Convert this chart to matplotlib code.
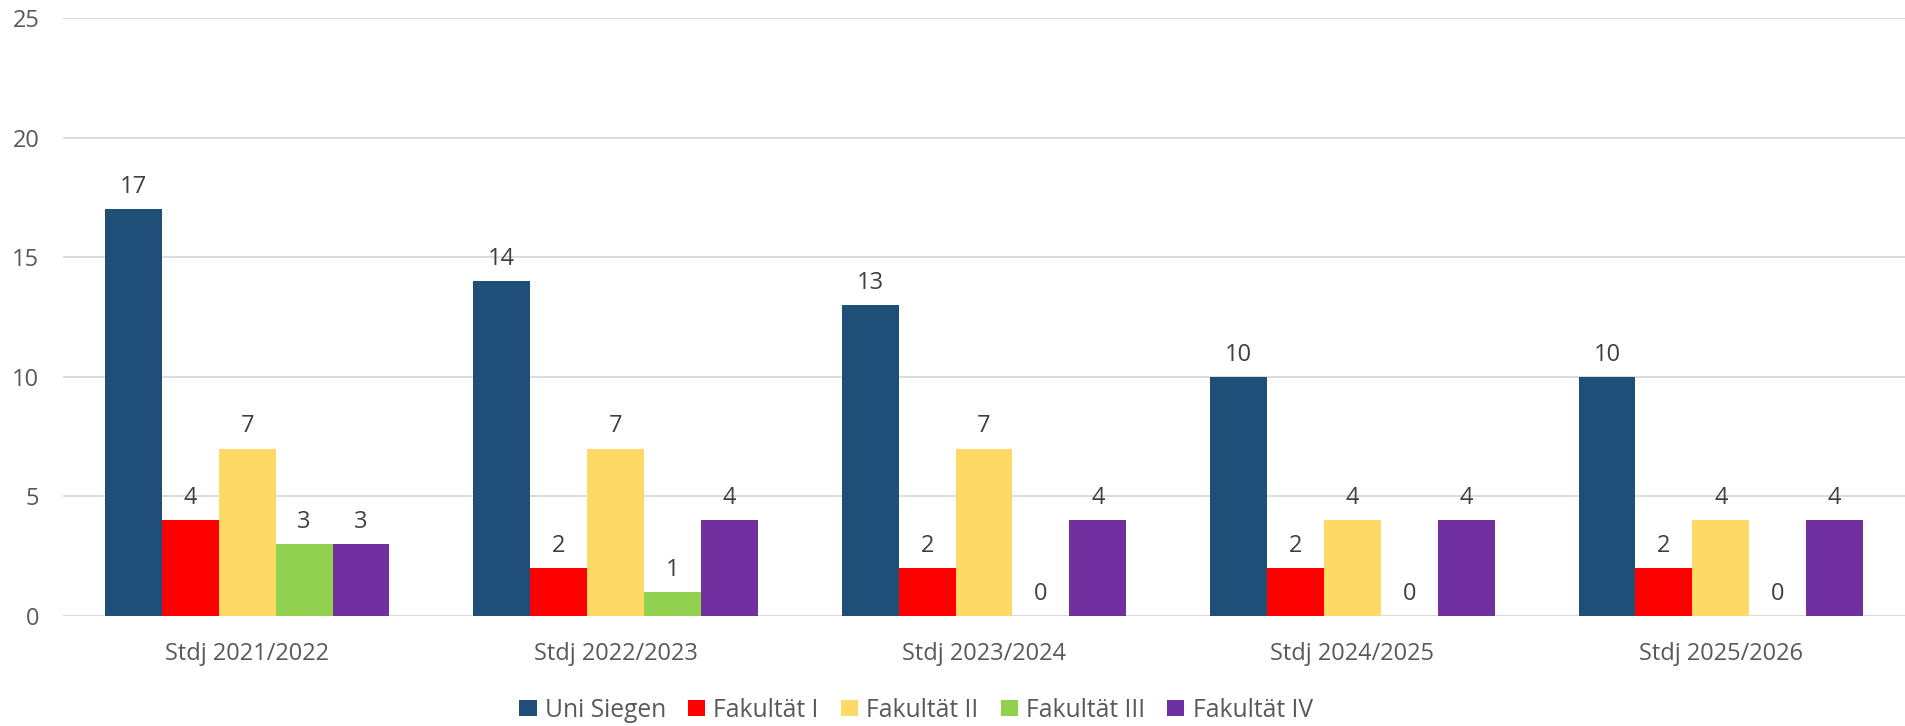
import numpy as np
import matplotlib as mpl
mpl.use('Agg')
import matplotlib.pyplot as plt
from matplotlib.patches import Patch

# Data.
categories = ['Stdj 2021/2022', 'Stdj 2022/2023', 'Stdj 2023/2024',
              'Stdj 2024/2025', 'Stdj 2025/2026']
seriesNames = ['Uni Siegen', 'Fakultät I', 'Fakultät II', 'Fakultät III',
               'Fakultät IV']
uniSiegen = [17, 14, 13, 10, 10]
fakI = [4, 2, 2, 2, 2]
fakII = [7, 7, 7, 4, 4]
fakIII = [3, 1, 0, 0, 0]
fakIV = [3, 4, 4, 4, 4]
yTicks = [0, 5, 10, 15, 20, 25]

seriesValues = [uniSiegen, fakI, fakII, fakIII, fakIV]
colorOrder = ['#1F4E79', '#FF0000', '#FFD966', '#92D050', '#7030A0']

# Figure configuration.
mpl.rcParams['font.family'] = ['Open Sans', 'DejaVu Sans']
mpl.rcParams['axes.linewidth'] = 0
tickColor = '#595959'
labelColor = '#404040'
gridColor = '#D9D9D9'

fig = plt.figure(figsize=(19.06, 7.26), dpi=100)
ax = fig.add_axes([63 / 1906, 1 - 616 / 726, (1905 - 63) / 1906, (616 - 18) / 726])

x = np.arange(len(categories))
barW = 0.1545
nSeries = len(seriesValues)

for i, (vals, col) in enumerate(zip(seriesValues, colorOrder)):
    offset = (i - (nSeries - 1) / 2) * barW
    bars = ax.bar(x + offset, vals, width=barW, color=col, linewidth=0,
                  zorder=3)
    for b, v in zip(bars, vals):
        ax.annotate(str(v), (b.get_x() + b.get_width() / 2, v),
                    xytext=(0, 16), textcoords='offset points',
                    ha='center', va='center', fontsize=17, color=labelColor)

# Axes and gridlines.
ax.set_xlim(-0.5, len(categories) - 0.5)
ax.set_ylim(0, 25)
ax.set_yticks(yTicks)
ax.yaxis.grid(True, color=gridColor, linewidth=1.3, zorder=0)
ax.set_axisbelow(True)
for s in ax.spines.values():
    s.set_visible(False)
ax.axhline(0, color=gridColor, linewidth=1.3, zorder=2)

ax.set_xticks(x)
ax.set_xticklabels(categories)
ax.tick_params(axis='x', length=0, pad=18.5, labelsize=17, labelcolor=tickColor)
ax.tick_params(axis='y', length=0, pad=17, labelsize=17, labelcolor=tickColor)

# Legend below the chart.
handles = [Patch(facecolor=c, edgecolor='none') for c in colorOrder]
fig.legend(handles, seriesNames, loc='center', bbox_to_anchor=(0.4806, 0.022),
           ncol=len(seriesNames), frameon=False, fontsize=17.7,
           handlelength=0.7, handleheight=0.66, handletextpad=0.33,
           columnspacing=0.9, borderpad=0, labelcolor=tickColor)

fig.savefig('out.png', dpi=100)
